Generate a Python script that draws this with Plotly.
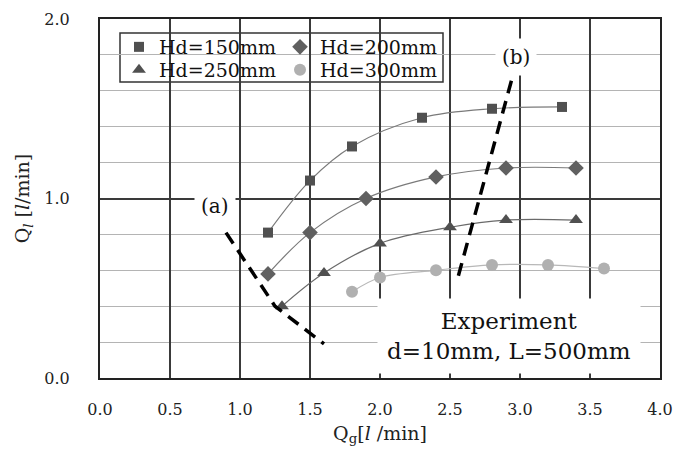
import plotly.graph_objects as go

# ---- data ----
qg_150 = [1.2, 1.5, 1.8, 2.3, 2.8, 3.3]
ql_150 = [0.81, 1.10, 1.29, 1.45, 1.50, 1.51]
qg_200 = [1.2, 1.5, 1.9, 2.4, 2.9, 3.4]
ql_200 = [0.58, 0.81, 1.00, 1.12, 1.17, 1.17]
qg_250 = [1.3, 1.6, 2.0, 2.5, 2.9, 3.4]
ql_250 = [0.40, 0.585, 0.75, 0.84, 0.88, 0.88]
qg_300 = [1.8, 2.0, 2.4, 2.8, 3.2, 3.6]
ql_300 = [0.48, 0.56, 0.60, 0.63, 0.63, 0.61]

line_a_x = [0.9, 1.25, 1.6]
line_a_y = [0.81, 0.40, 0.19]
line_b_x = [2.56, 2.94]
line_b_y = [0.57, 1.66]

series_names = ["Hd=150mm", "Hd=200mm", "Hd=250mm", "Hd=300mm"]
x_ticks = [0.0, 0.5, 1.0, 1.5, 2.0, 2.5, 3.0, 3.5, 4.0]
y_ticks = [0.0, 1.0, 2.0]

FONT = "DejaVu Serif"

fig = go.Figure()

series = [
    (qg_150, ql_150, "square", "#505050", "#7a7a7a", 10, "legend"),
    (qg_200, ql_200, "diamond", "#606060", "#7a7a7a", 12, "legend"),
    (qg_250, ql_250, "triangle-up", "#505050", "#6a6a6a", 12, "legend2"),
    (qg_300, ql_300, "circle", "#b0b0b0", "#b8b8b8", 12, "legend2"),
]

for (xs, ys, sym, mcol, lcol, msize, leg), name in zip(series, series_names):
    fig.add_trace(go.Scatter(
        x=xs, y=ys, mode="lines", line=dict(color=lcol, width=1.2, shape="spline", smoothing=1.0),
        showlegend=False, hoverinfo="skip"))
    fig.add_trace(go.Scatter(
        x=xs, y=ys, mode="markers", name=name, legend=leg,
        marker=dict(symbol=sym, size=msize, color=mcol, line=dict(width=0))))

for lx, ly in [(line_a_x, line_a_y), (line_b_x, line_b_y)]:
    fig.add_trace(go.Scatter(
        x=lx, y=ly, mode="lines", showlegend=False, hoverinfo="skip",
        line=dict(color="black", width=3.5, dash="13px,8px")))

PW = 675 - 100 - 15  # plot width in px
PH = 455 - 19 - 77

# legend frame
fig.add_shape(type="rect", xref="paper", yref="paper",
              x0=(120 - 100) / PW, x1=(443 - 100) / PW,
              y0=(378 - 82) / PH, y1=(378 - 33) / PH,
              line=dict(color="#333", width=1.5), fillcolor="white", layer="between")

leg_common = dict(orientation="h", xanchor="left", yanchor="middle",
                  bgcolor="rgba(0,0,0,0)", borderwidth=0, entrywidth=116,
                  itemwidth=30, font=dict(family=FONT, size=19, color="#111"),
                  tracegroupgap=0)
fig.update_layout(
    legend=dict(x=(119 - 100) / PW, y=(378 - 47) / PH, **leg_common),
    legend2=dict(x=(119 - 100) / PW, y=(378 - 70) / PH, **leg_common),
)

fig.add_annotation(x=0.82, y=0.96, text="(a)", showarrow=False, bgcolor="white",
                   borderpad=6, font=dict(family=FONT, size=20, color="#111"))
fig.add_annotation(x=2.97, y=1.79, text="(b)", showarrow=False, bgcolor="white",
                   borderpad=6, font=dict(family=FONT, size=20, color="#111"))
fig.add_annotation(x=2.92, y=0.235, text="Experiment<br>d=10mm, L=500mm", showarrow=False,
                   bgcolor="white", borderpad=9, align="center",
                   font=dict(family=FONT, size=23, color="#111"))

fig.update_xaxes(
    range=[0, 4], tickvals=x_ticks, ticktext=[f"{v:.1f}" for v in x_ticks],
    showgrid=True, gridcolor="#3a3a3a", gridwidth=1.6,
    showline=True, mirror=True, linecolor="#222", linewidth=2,
    ticks="", ticklabelstandoff=16, zeroline=False,
    tickfont=dict(family=FONT, size=16, color="#222"),
    title=dict(text="Q<sub>g</sub>[<i>l</i> /min]", standoff=8,
               font=dict(family=FONT, size=19, color="#222")),
)
fig.update_yaxes(
    range=[0, 2], tickvals=y_ticks, ticktext=[f"{v:.1f}" for v in y_ticks],
    showgrid=True, gridcolor="#3a3a3a", gridwidth=1.6,
    minor=dict(dtick=0.2, showgrid=True, gridcolor="#b4b4b4", gridwidth=1),
    showline=True, mirror=True, linecolor="#222", linewidth=2,
    ticks="", ticklabelstandoff=25, zeroline=False,
    tickfont=dict(family=FONT, size=16, color="#222"),
    title=dict(text="Q<sub><i>l</i></sub> [<i>l</i>/min]", standoff=10,
               font=dict(family=FONT, size=19, color="#222")),
)

fig.update_layout(
    width=675, height=455,
    margin=dict(l=100, r=15, t=19, b=77, autoexpand=False),
    paper_bgcolor="white", plot_bgcolor="white",
    showlegend=True,
)

fig.write_html("out.html")
